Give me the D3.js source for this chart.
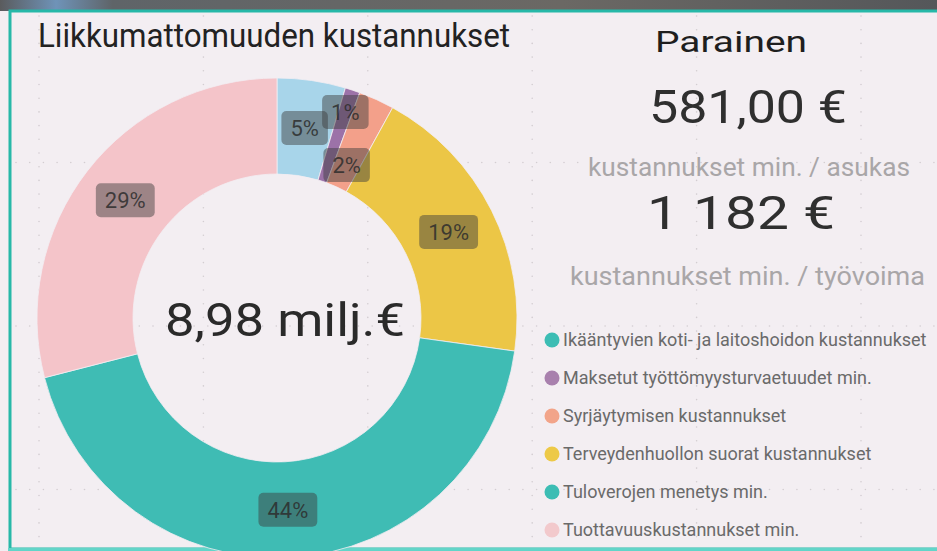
<!DOCTYPE html>
<html>
<head>
<meta charset="utf-8">
<script src="https://cdn.jsdelivr.net/npm/d3@7"></script>
<style>
  html, body { margin: 0; padding: 0; background: #f3eef2; }
  svg { display: block; font-family: Roboto, "Open Sans", sans-serif; }
</style>
</head>
<body>
<figure style="margin:0"></figure>
<script>
// chart data
var categories = [
  "Ikääntyvien koti- ja laitoshoidon kustannukset",
  "Maksetut työttömyysturvaetuudet min.",
  "Syrjäytymisen kustannukset",
  "Terveydenhuollon suorat kustannukset",
  "Tuloverojen menetys min.",
  "Tuottavuuskustannukset min."
];
var shares = [4.6, 1.0, 2.4, 19.2, 43.8, 29.0];   // % of total
var sliceColors  = ["#a8d5ea", "#9c72a8", "#f3a08a", "#ecc646", "#3fbcb4", "#f4c4c9"];
var legendColors = ["#3cbdb4", "#a880ad", "#f2a489", "#edc947", "#3cbdb4", "#f2c9cc"];
var totalLabel = "8,98 milj.€";
var title = "Liikkumattomuuden kustannukset";
var municipality = "Parainen";
var kpiValues = ["581,00 €", "1 182 €"];
var kpiCaptions = ["kustannukset min. / asukas", "kustannukset min. / työvoima"];

var W = 937, H = 551;

var svg = d3.select("figure").append("svg")
    .attr("width", W)
    .attr("height", H);

// photo strip behind the report + panel
var grad = svg.append("defs").append("linearGradient")
    .attr("id", "strip").attr("x1", 0).attr("x2", 1);
grad.append("stop").attr("offset", "0%").attr("stop-color", "#5a5b5d");
grad.append("stop").attr("offset", "6%").attr("stop-color", "#6f93b8");
grad.append("stop").attr("offset", "12%").attr("stop-color", "#5f6468");
grad.append("stop").attr("offset", "60%").attr("stop-color", "#6b6864");
grad.append("stop").attr("offset", "100%").attr("stop-color", "#55575a");
svg.append("rect").attr("width", W).attr("height", 11).attr("fill", "url(#strip)");

svg.append("rect")
    .attr("x", 10).attr("y", 11)
    .attr("width", W + 10).attr("height", H - 13)
    .attr("fill", "#f3eef2")
    .attr("stroke", "#27b8a8")
    .attr("stroke-width", 3);
svg.append("rect").attr("x", 8).attr("y", H - 3).attr("width", W).attr("height", 3).attr("fill", "#62d5c9");

// faint canvas grid (dotted lines)
var grid = svg.append("g").attr("fill", "#d3cdd1");
var gx = d3.range(39, W, 164.4), gy = d3.range(-1, H, 163.5);
gx.forEach(function(x) {
  d3.range(16, H - 4, 13.7).forEach(function(y) {
    grid.append("circle").attr("cx", x).attr("cy", y).attr("r", 0.8);
  });
});
gy.forEach(function(y) {
  if (y < 14) return;
  d3.range(16, W, 13.7).forEach(function(x) {
    grid.append("circle").attr("cx", x).attr("cy", y).attr("r", 0.8);
  });
});

// title
svg.append("text")
    .attr("x", 38).attr("y", 47)
    .attr("font-size", 34)
    .attr("fill", "#222")
    .attr("textLength", 472).attr("lengthAdjust", "spacingAndGlyphs")
    .text(title);

// donut
var cx = 277, cy = 318, rOuter = 240, rInner = 144;
var pie = d3.pie().sort(null).value(function(d) { return d; });
var arcs = pie(shares);
var arc = d3.arc().innerRadius(rInner).outerRadius(rOuter);

var donut = svg.append("g").attr("transform", "translate(" + cx + "," + cy + ")");
donut.selectAll("path")
    .data(arcs)
  .enter().append("path")
    .attr("d", arc)
    .attr("fill", function(d, i) { return sliceColors[i]; })
    .attr("stroke", "#f3eef2")
    .attr("stroke-width", 0.8);

// data labels; the two thin slices are nudged out / in so they don't collide
var labelR = {1: 217, 2: 168};
var lab = donut.selectAll("g.lab")
    .data(arcs)
  .enter().append("g")
    .attr("class", "lab")
    .attr("transform", function(d, i) {
      var a = (d.startAngle + d.endAngle) / 2;
      var r = labelR[i] || (rOuter + rInner) / 2;
      return "translate(" + (r * Math.sin(a)) + "," + (-r * Math.cos(a)) + ")";
    });
lab.append("text")
    .attr("text-anchor", "middle")
    .attr("dy", "0.36em")
    .attr("font-size", 22)
    .attr("fill", "#2d2d2d")
    .attr("fill-opacity", 0.85)
    .text(function(d) { return Math.round(d.value) + "%"; })
    .each(function() {
      var b = this.getBBox();
      d3.select(this.parentNode).insert("rect", "text")
        .attr("x", b.x - 9).attr("y", -17)
        .attr("width", b.width + 18).attr("height", 34)
        .attr("rx", 5)
        .attr("fill", "#3c3c3c")
        .attr("fill-opacity", 0.47);
    });

svg.append("text")
    .attr("x", 165).attr("y", 336)
    .attr("font-size", 46)
    .attr("fill", "#2a2a2a")
    .attr("textLength", 240).attr("lengthAdjust", "spacingAndGlyphs")
    .text(totalLabel);

// KPI cards on the right
svg.append("text")
    .attr("x", 655).attr("y", 52)
    .attr("font-size", 29).attr("fill", "#1e1e1e")
    .attr("textLength", 152).attr("lengthAdjust", "spacingAndGlyphs")
    .text(municipality);

var kpiRows = [
  {v: kpiValues[0], c: kpiCaptions[0], vx: 649, vw: 198, vy: 123, cx: 588, cw: 322, cy: 176},
  {v: kpiValues[1], c: kpiCaptions[1], vx: 647, vw: 188, vy: 229, cx: 570, cw: 355, cy: 285}
];
kpiRows.forEach(function(k) {
  svg.append("text")
      .attr("x", k.vx).attr("y", k.vy)
      .attr("font-size", 46).attr("fill", "#2f2f2f")
      .attr("textLength", k.vw).attr("lengthAdjust", "spacingAndGlyphs")
      .text(k.v);
  svg.append("text")
      .attr("x", k.cx).attr("y", k.cy)
      .attr("font-size", 26).attr("fill", "#a9a6a8")
      .attr("textLength", k.cw).attr("lengthAdjust", "spacingAndGlyphs")
      .text(k.c);
});

// legend
var ly = d3.scalePoint().domain(categories).range([340, 530]);
var legend = svg.append("g").selectAll("g")
    .data(categories)
  .enter().append("g")
    .attr("transform", function(d) { return "translate(552," + ly(d) + ")"; });
legend.append("circle")
    .attr("r", 7.5)
    .attr("fill", function(d, i) { return legendColors[i]; });
legend.append("text")
    .attr("x", 11).attr("y", 6)
    .attr("font-size", 18)
    .attr("fill", "#6a6a6a")
    .text(function(d) { return d; });
</script>
</body>
</html>
